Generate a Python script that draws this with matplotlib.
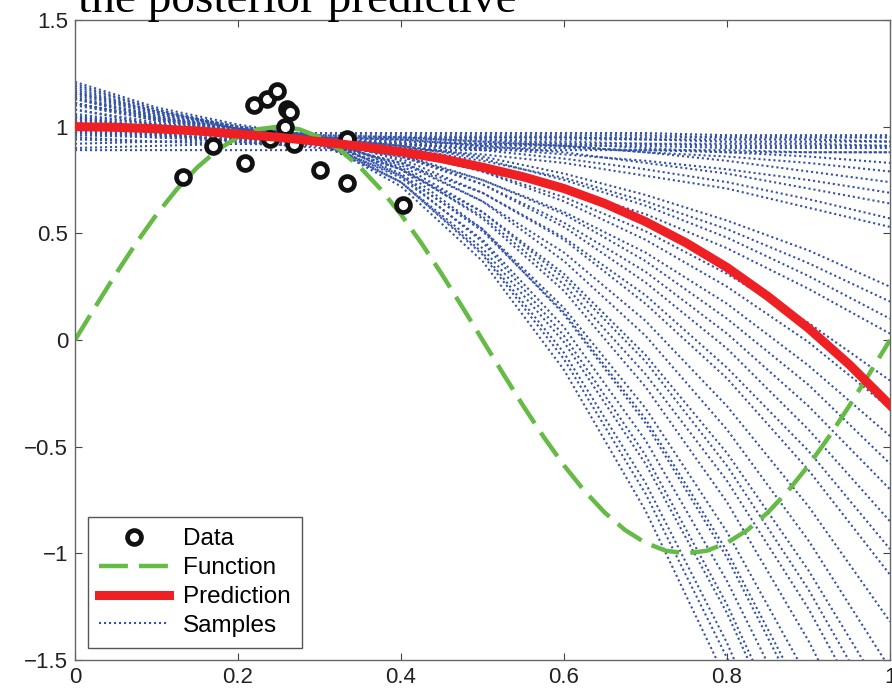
import numpy as np
import matplotlib.pyplot as plt

# observed data
data_x = [0.133, 0.169, 0.209, 0.220, 0.236, 0.248, 0.260, 0.264, 0.258, 0.239,
          0.269, 0.301, 0.334, 0.334, 0.402]
data_y = [0.762, 0.911, 0.832, 1.103, 1.131, 1.168, 1.084, 1.070, 1.000, 0.944,
          0.921, 0.799, 0.944, 0.734, 0.631]

# true function (green dashed), read every 0.025
func_x = np.linspace(0, 1, 41)
func_y = [0, 0.156, 0.309, 0.454, 0.588, 0.707, 0.809, 0.891, 0.951, 0.988, 1.0,
          0.988, 0.951, 0.891, 0.809, 0.707, 0.588, 0.454, 0.309, 0.156, 0,
          -0.156, -0.309, -0.454, -0.588, -0.707, -0.809, -0.891, -0.951, -0.988, -1.0,
          -0.988, -0.951, -0.891, -0.809, -0.707, -0.588, -0.454, -0.309, -0.156, 0]

# posterior predictive mean (red), read every 0.05
pred_x = np.linspace(0, 1, 21)
pred_y = [1.0, 0.997, 0.99, 0.98, 0.965, 0.95, 0.93, 0.908, 0.882, 0.85, 0.81,
          0.765, 0.71, 0.64, 0.555, 0.455, 0.34, 0.205, 0.055, -0.115, -0.305]

# posterior samples (blue dotted), read every 0.1
samp_x = np.linspace(0, 1, 11)
samples = [
    [0.97, 0.97, 0.97, 0.97, 0.97, 0.97, 0.97, 0.97, 0.96, 0.96, 0.96],
    [1.01, 0.99, 0.97, 0.96, 0.96, 0.96, 0.96, 0.96, 0.95, 0.95, 0.95],
    [0.92, 0.93, 0.94, 0.95, 0.95, 0.95, 0.95, 0.95, 0.95, 0.95, 0.95],
    [1.05, 1.01, 0.97, 0.95, 0.95, 0.95, 0.95, 0.94, 0.94, 0.94, 0.93],
    [0.96, 0.95, 0.94, 0.94, 0.94, 0.94, 0.94, 0.94, 0.93, 0.93, 0.93],
    [1.01, 0.97, 0.95, 0.93, 0.93, 0.93, 0.93, 0.92, 0.92, 0.92, 0.91],
    [0.90, 0.91, 0.92, 0.92, 0.92, 0.92, 0.92, 0.92, 0.91, 0.91, 0.91],
    [0.95, 0.93, 0.92, 0.91, 0.91, 0.91, 0.91, 0.91, 0.90, 0.90, 0.90],
    [1.02, 0.97, 0.93, 0.90, 0.90, 0.90, 0.90, 0.89, 0.89, 0.88, 0.88],
    [0.89, 0.89, 0.89, 0.89, 0.89, 0.89, 0.89, 0.89, 0.88, 0.88, 0.88],
    [1.01, 0.98, 0.96, 0.95, 0.94, 0.94, 0.92, 0.90, 0.88, 0.86, 0.83],
    [1.04, 1.00, 0.96, 0.94, 0.93, 0.92, 0.91, 0.88, 0.86, 0.83, 0.79],
    [1.11, 1.04, 0.99, 0.96, 0.95, 0.93, 0.91, 0.88, 0.84, 0.79, 0.74],
    [0.97, 0.95, 0.94, 0.93, 0.92, 0.90, 0.87, 0.84, 0.80, 0.75, 0.69],
    [1.13, 1.05, 0.99, 0.95, 0.94, 0.91, 0.88, 0.83, 0.78, 0.71, 0.64],
    [1.02, 0.98, 0.96, 0.94, 0.92, 0.89, 0.85, 0.80, 0.74, 0.66, 0.57],
    [0.94, 0.93, 0.92, 0.92, 0.90, 0.87, 0.83, 0.77, 0.71, 0.62, 0.53],
    [1.06, 1.01, 0.97, 0.94, 0.91, 0.86, 0.78, 0.68, 0.56, 0.42, 0.25],
    [0.98, 0.96, 0.94, 0.93, 0.90, 0.84, 0.76, 0.65, 0.52, 0.36, 0.18],
    [1.11, 1.04, 0.99, 0.95, 0.91, 0.85, 0.75, 0.63, 0.48, 0.30, 0.10],
    [0.99, 0.96, 0.94, 0.92, 0.88, 0.81, 0.71, 0.59, 0.43, 0.24, 0.03],
    [1.02, 0.98, 0.95, 0.93, 0.88, 0.79, 0.67, 0.51, 0.31, 0.08, -0.19],
    [1.15, 1.06, 0.99, 0.95, 0.89, 0.79, 0.65, 0.47, 0.25, -0.01, -0.32],
    [0.98, 0.95, 0.93, 0.92, 0.86, 0.75, 0.60, 0.41, 0.17, -0.12, -0.45],
    [1.08, 1.02, 0.97, 0.94, 0.87, 0.75, 0.59, 0.37, 0.10, -0.21, -0.58],
    [1.04, 0.99, 0.95, 0.93, 0.86, 0.73, 0.55, 0.32, 0.03, -0.31, -0.70],
    [1.17, 1.07, 1.00, 0.95, 0.87, 0.73, 0.53, 0.27, -0.04, -0.42, -0.85],
    [1.00, 0.96, 0.94, 0.92, 0.83, 0.69, 0.48, 0.21, -0.13, -0.52, -0.98],
    [1.11, 1.03, 0.98, 0.94, 0.85, 0.69, 0.47, 0.17, -0.18, -0.61, -1.10],
    [1.03, 0.99, 0.95, 0.93, 0.83, 0.65, 0.41, 0.09, -0.31, -0.78, -1.32],
    [1.10, 1.03, 0.98, 0.95, 0.84, 0.65, 0.37, 0.02, -0.42, -0.94, -1.54],
    [1.04, 0.99, 0.95, 0.92, 0.80, 0.60, 0.31, -0.07, -0.53, -1.08, -1.71],
    [1.13, 1.05, 0.98, 0.94, 0.82, 0.60, 0.29, -0.10, -0.59, -1.17, -1.84],
    [1.14, 1.05, 0.98, 0.93, 0.80, 0.58, 0.26, -0.16, -0.66, -1.26, -1.96],
    [1.19, 1.08, 1.00, 0.95, 0.81, 0.57, 0.23, -0.22, -0.76, -1.41, -2.16],
    [1.05, 0.99, 0.95, 0.92, 0.77, 0.52, 0.15, -0.32, -0.90, -1.59, -2.38],
    [1.16, 1.06, 0.99, 0.94, 0.78, 0.51, 0.13, -0.37, -0.99, -1.72, -2.56],
    [1.16, 1.07, 1.00, 0.96, 0.80, 0.52, 0.12, -0.39, -1.02, -1.77, -2.64],
    [1.11, 1.03, 0.97, 0.93, 0.76, 0.47, 0.06, -0.47, -1.13, -1.90, -2.80],
    [1.21, 1.09, 1.01, 0.95, 0.77, 0.46, 0.02, -0.54, -1.24, -2.07, -3.03],
    [1.08, 1.01, 0.96, 0.92, 0.74, 0.43, -0.01, -0.58, -1.28, -2.12, -3.08],
    [1.13, 1.04, 0.97, 0.93, 0.74, 0.41, -0.06, -0.67, -1.42, -2.30, -3.33],
    [1.18, 1.07, 0.99, 0.94, 0.74, 0.40, -0.09, -0.72, -1.49, -2.41, -3.47],
    [1.20, 1.08, 0.99, 0.93, 0.72, 0.37, -0.14, -0.80, -1.60, -2.56, -3.67],
]

green = '#66bb46'
red = '#ee2024'
blue = '#3452a6'

fig = plt.figure(figsize=(8.92, 6.98), dpi=100)
ax = fig.add_axes([75/892, 38/698, 815/892, 640/698])

for i, s in enumerate(samples):
    ln, = ax.plot(samp_x, s, color=blue, lw=1.5, ls=(0, (1.0, 1.4)), zorder=1)
    if i == 0:
        h_samp = ln
h_func, = ax.plot(func_x, func_y, color=green, lw=3.2, ls=(0, (6.5, 2.5)), zorder=2)
h_data, = ax.plot(data_x, data_y, 'o', ms=10, mew=3.4, mec='#111111', mfc='white',
                  zorder=3)
h_pred, = ax.plot(pred_x, pred_y, color=red, lw=6.5, zorder=4)

ax.set_xlim(0, 1)
ax.set_ylim(-1.5, 1.5)
ax.set_xticks([0, 0.2, 0.4, 0.6, 0.8, 1])
ax.set_xticklabels(['0', '0.2', '0.4', '0.6', '0.8', '1'])
ax.set_yticks([-1.5, -1, -0.5, 0, 0.5, 1, 1.5])
ax.set_yticklabels(['\u22121.5', '\u22121', '\u22120.5', '0', '0.5', '1', '1.5'])
ax.tick_params(direction='in', length=5, width=0.8, color='#444444',
               top=True, right=True, labelsize=16, labelcolor='#222222', pad=5)
for lab in ax.get_xticklabels() + ax.get_yticklabels():
    lab.set_family('Liberation Sans')
for sp in ax.spines.values():
    sp.set_color('#666666')
    sp.set_linewidth(1.0)

leg = ax.legend([h_data, h_func, h_pred, h_samp],
                ['Data', 'Function', 'Prediction', 'Samples'],
                loc='lower left', bbox_to_anchor=(0.016, 0.019), borderaxespad=0,
                prop={'family': 'Liberation Sans', 'size': 17.5},
                numpoints=1, handlelength=2.9, handletextpad=0.55,
                labelspacing=0.28, borderpad=0.45, fancybox=False,
                edgecolor='#555555', framealpha=1)
leg.get_frame().set_linewidth(1.0)

fig.text(78/892, 1 - 12/698, 'the posterior predictive', family='Liberation Serif',
         fontsize=34, ha='left', va='baseline')

fig.savefig('out.png', dpi=100)
